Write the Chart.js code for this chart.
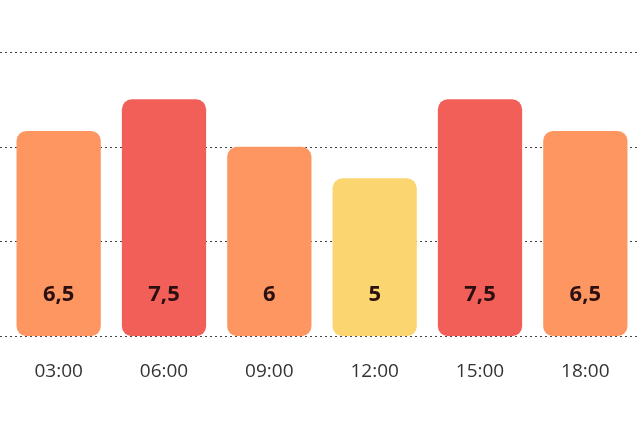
<!DOCTYPE html>
<html>
<head>
<meta charset="utf-8">
<script src="https://cdn.jsdelivr.net/npm/chart.js@4"></script>
<style>
html,body{margin:0;padding:0;background:#fff;}
#wrap{width:640px;height:425px;}
</style>
</head>
<body>
<div id="wrap"><canvas id="c"></canvas></div>
<script>
const categories = ["03:00","06:00","09:00","12:00","15:00","18:00"];
const values = [6.5, 7.5, 6, 5, 7.5, 6.5];
const barColors = ["#FD9661","#F25F58","#FD9661","#FBD56F","#F25F58","#FD9661"];
const yTicks = [0, 3, 6, 9];

const fullGrid = {
  id: 'fullGrid',
  beforeDatasetsDraw(chart) {
    const ctx = chart.ctx, y = chart.scales.y;
    ctx.save();
    ctx.strokeStyle = '#444';
    ctx.lineWidth = 1;
    ctx.setLineDash([2, 3]);
    yTicks.forEach(v => {
      const py = Math.round(y.getPixelForValue(v)) + 0.5;
      ctx.beginPath();
      ctx.moveTo(0, py);
      ctx.lineTo(chart.width, py);
      ctx.stroke();
    });
    ctx.restore();
  }
};

const valueLabels = {
  id: 'valueLabels',
  afterDatasetsDraw(chart) {
    const ctx = chart.ctx;
    const meta = chart.getDatasetMeta(0);
    ctx.save();
    ctx.font = 'bold 22px "Open Sans"';
    ctx.fillStyle = '#2a1010';
    ctx.textAlign = 'center';
    ctx.textBaseline = 'middle';
    meta.data.forEach((bar, i) => {
      const txt = String(values[i]).replace('.', ',');
      ctx.fillText(txt, bar.x, bar.base - 41);
    });
    ctx.restore();
  }
};

new Chart(document.getElementById('c'), {
  type: 'bar',
  data: {
    labels: categories,
    datasets: [{
      data: values,
      backgroundColor: barColors,
      borderRadius: 10,
      borderSkipped: false,
      barPercentage: 0.8,
      categoryPercentage: 1.0
    }]
  },
  options: {
    responsive: true,
    maintainAspectRatio: false,
    animation: false,
    layout: { padding: { top: 52, left: 6, right: 2, bottom: 18 } },
    plugins: { legend: { display: false }, tooltip: { enabled: false } },
    scales: {
      x: {
        grid: { display: false, drawTicks: false },
        border: { display: false },
        ticks: { padding: 24, color: '#333', font: { family: 'Open Sans', size: 19 } }
      },
      y: {
        display: false,
        min: 0,
        max: 9,
        ticks: { stepSize: 3 }
      }
    }
  },
  plugins: [fullGrid, valueLabels]
});
</script>
</body>
</html>
